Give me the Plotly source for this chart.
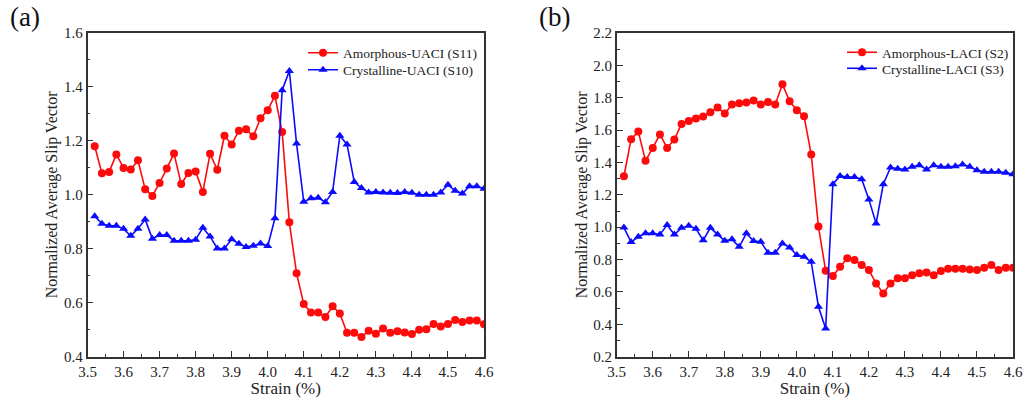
import plotly.graph_objects as go

strain = [round(3.52 + 0.02 * i, 2) for i in range(55)]

amorphous_uaci = [1.18, 1.08, 1.085, 1.15, 1.10, 1.094, 1.128, 1.021, 0.996, 1.044,
                  1.098, 1.153, 1.04, 1.081, 1.087, 1.011, 1.152, 1.093, 1.219, 1.187,
                  1.238, 1.243, 1.217, 1.284, 1.314, 1.367, 1.233, 0.898, 0.709, 0.595,
                  0.564, 0.564, 0.547, 0.587, 0.56, 0.489, 0.489, 0.473, 0.496, 0.485,
                  0.505, 0.489, 0.494, 0.49, 0.484, 0.50, 0.502, 0.521, 0.512, 0.521,
                  0.536, 0.529, 0.534, 0.534, 0.52]
crystalline_uaci = [0.921, 0.893, 0.885, 0.885, 0.874, 0.848, 0.874, 0.909, 0.837, 0.851,
                    0.851, 0.83, 0.83, 0.83, 0.834, 0.878, 0.846, 0.801, 0.801, 0.835,
                    0.819, 0.807, 0.811, 0.82, 0.81, 0.913, 1.388, 1.459, 1.19, 0.974,
                    0.987, 0.989, 0.973, 1.011, 1.219, 1.187, 1.048, 1.025, 1.009, 1.011,
                    1.009, 1.008, 1.007, 1.011, 1.008, 1.0, 1.0, 1.0, 1.009, 1.037,
                    1.015, 1.005, 1.032, 1.032, 1.023]
amorphous_laci = [1.315, 1.544, 1.591, 1.41, 1.49, 1.573, 1.49, 1.542, 1.638, 1.657,
                  1.671, 1.684, 1.71, 1.739, 1.702, 1.758, 1.766, 1.77, 1.783, 1.758,
                  1.774, 1.758, 1.883, 1.778, 1.723, 1.686, 1.449, 1.004, 0.731, 0.698,
                  0.756, 0.809, 0.797, 0.766, 0.735, 0.653, 0.591, 0.653, 0.684, 0.684,
                  0.704, 0.716, 0.72, 0.704, 0.729, 0.743, 0.743, 0.743, 0.739, 0.735,
                  0.749, 0.766, 0.735, 0.749, 0.75]
crystalline_laci = [0.998, 0.908, 0.941, 0.962, 0.962, 0.955, 1.013, 0.955, 0.996, 1.009,
                    0.99, 0.92, 0.996, 0.955, 0.916, 0.925, 0.879, 0.962, 0.915, 0.91,
                    0.842, 0.842, 0.9, 0.875, 0.828, 0.817, 0.786, 0.509, 0.375, 1.266,
                    1.317, 1.31, 1.31, 1.297, 1.172, 1.023, 1.266, 1.369, 1.362, 1.357,
                    1.373, 1.383, 1.357, 1.383, 1.373, 1.373, 1.377, 1.388, 1.373, 1.352,
                    1.342, 1.342, 1.342, 1.336, 1.328]

x_ticks = [3.5, 3.6, 3.7, 3.8, 3.9, 4.0, 4.1, 4.2, 4.3, 4.4, 4.5, 4.6]

RED = "#ff0a0a"
BLUE = "#0a0aff"
FONT = "Liberation Serif, Times New Roman, serif"
AXC = "#333333"
W, H = 1024, 401

fig = go.Figure()
series = [
    (amorphous_uaci, "Amorphous-UACI (S11)", "x", "y", RED, "circle", "legend"),
    (crystalline_uaci, "Crystalline-UACI (S10)", "x", "y", BLUE, "triangle-up", "legend2"),
    (amorphous_laci, "Amorphous-LACI (S2)", "x2", "y2", RED, "circle", "legend3"),
    (crystalline_laci, "Crystalline-LACI (S3)", "x2", "y2", BLUE, "triangle-up", "legend4"),
]
for vals, name, xa, ya, col, sym, lg in series:
    fig.add_trace(go.Scatter(x=strain, y=vals, mode="lines+markers", name=name,
                             xaxis=xa, yaxis=ya,
                             line=dict(color=col, width=1.6),
                             marker=dict(symbol=sym, size=8, color=col),
                             legend=lg))

def xax(domain, anchor):
    return dict(domain=domain, anchor=anchor, range=[3.5, 4.6], tickvals=x_ticks,
                ticktext=[f"{v:.1f}" for v in x_ticks], automargin=False,
                ticks="inside", ticklen=6, tickwidth=1.3, tickcolor=AXC,
                minor=dict(dtick=0.05, tick0=3.5, ticks="inside", ticklen=3, tickcolor=AXC, tickwidth=1.2),
                showline=True, linecolor=AXC, linewidth=1.6, mirror=True,
                showgrid=False, zeroline=False,
                tickfont=dict(family=FONT, size=15, color="#222"),
                title=dict(text="Strain (%)", font=dict(family=FONT, size=17, color="#222"), standoff=4))

def yax(domain, anchor, rng):
    return dict(domain=domain, anchor=anchor, range=rng, dtick=0.2, tick0=rng[0], tickformat=".1f",
                automargin=False,
                ticks="inside", ticklen=6, tickwidth=1.3, tickcolor=AXC,
                minor=dict(dtick=0.1, ticks="inside", ticklen=3, tickcolor=AXC, tickwidth=1.2),
                showline=True, linecolor=AXC, linewidth=1.6, mirror=True,
                showgrid=False, zeroline=False,
                tickfont=dict(family=FONT, size=15, color="#222"),
                title=dict(text="Normalized Average Slip Vector", font=dict(family=FONT, size=16, color="#222"), standoff=2))

def leg(xpx, ypx):
    return dict(x=xpx / W, y=1 - ypx / H, xanchor="left", yanchor="middle",
                bgcolor="rgba(0,0,0,0)", borderwidth=0, itemwidth=30,
                font=dict(family=FONT, size=13.5, color="#222"))

ydom = [44.3 / H, 368 / H]
fig.update_layout(
    width=W, height=H,
    margin=dict(l=0, r=0, t=0, b=0, autoexpand=False),
    paper_bgcolor="white", plot_bgcolor="white",
    xaxis=xax([87.5 / W, 484 / W], "y"),
    yaxis=yax(ydom, "x", [0.4, 1.6]),
    xaxis2=xax([616.7 / W, 1013 / W], "y2"),
    yaxis2=yax(ydom, "x2", [0.2, 2.2]),
    legend=leg(303, 53),
    legend2=leg(303, 70),
    legend3=leg(842, 52.5),
    legend4=leg(842, 68.5),
    showlegend=True,
    annotations=[
        dict(text="(a)", x=25 / W, y=1 - 17 / H, xref="paper", yref="paper",
             xanchor="center", yanchor="middle",
             showarrow=False, font=dict(family=FONT, size=27, color="#111")),
        dict(text="(b)", x=554 / W, y=1 - 17 / H, xref="paper", yref="paper",
             xanchor="center", yanchor="middle",
             showarrow=False, font=dict(family=FONT, size=27, color="#111")),
    ],
)

fig.write_html("out.html")
